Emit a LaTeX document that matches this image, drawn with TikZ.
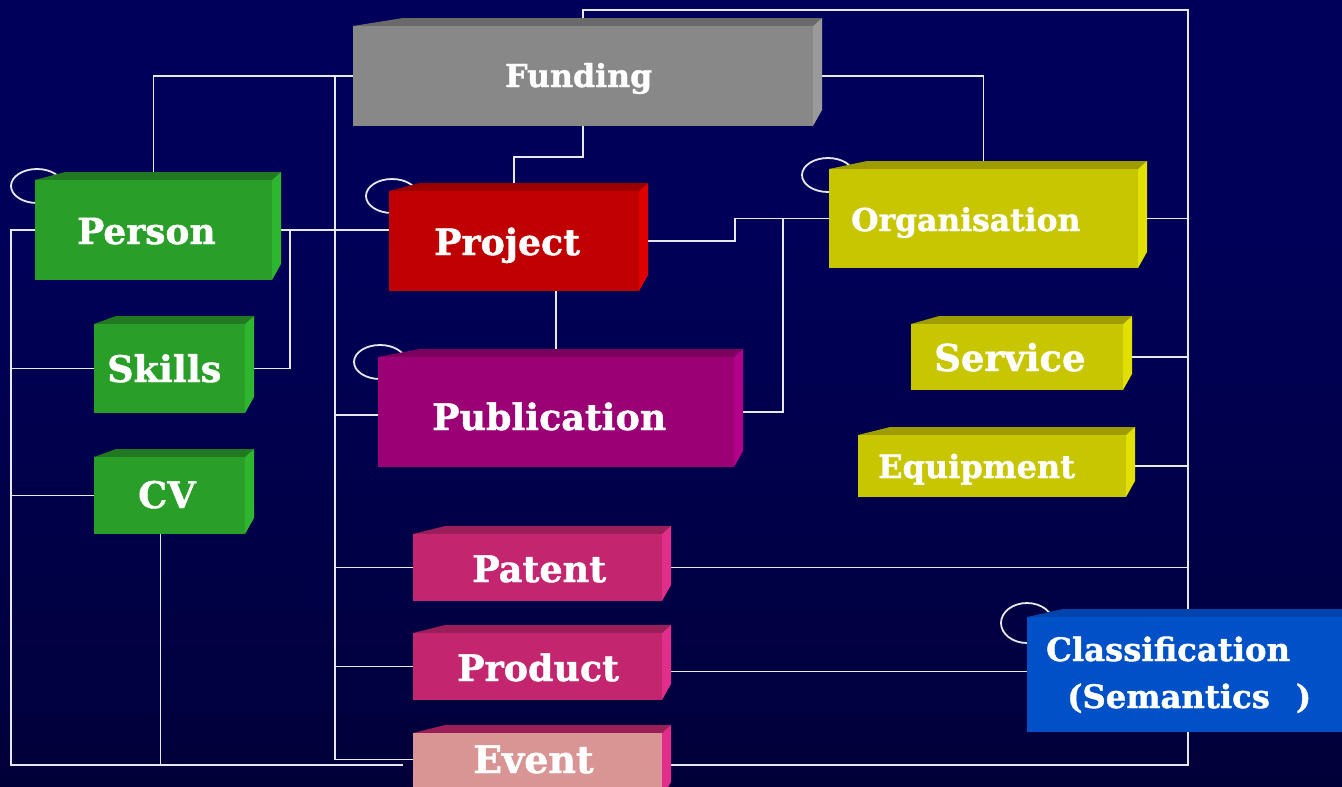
\documentclass[tikz,border=0pt]{standalone}
\usepackage{fontspec}
\setmainfont{DejaVu Serif}[BoldFeatures={FakeBold=1.2}]
\usetikzlibrary{calc}
\definecolor{bgT}{RGB}{0,0,96}
\definecolor{bgN}{RGB}{0,0,88}
\definecolor{bgM}{RGB}{0,0,62}
\definecolor{bgB}{RGB}{0,0,30}
\definecolor{linec}{RGB}{232,232,236}
\definecolor{grnF}{RGB}{41,158,41}\definecolor{grnT}{RGB}{33,122,33}\definecolor{grnS}{RGB}{46,182,46}
\definecolor{gryF}{RGB}{136,136,136}\definecolor{gryT}{RGB}{106,106,106}\definecolor{gryS}{RGB}{154,154,154}
\definecolor{redF}{RGB}{192,0,0}\definecolor{redT}{RGB}{154,0,0}\definecolor{redS}{RGB}{224,0,0}
\definecolor{yelF}{RGB}{200,198,0}\definecolor{yelT}{RGB}{158,156,0}\definecolor{yelS}{RGB}{226,224,0}
\definecolor{purF}{RGB}{155,0,117}\definecolor{purT}{RGB}{126,0,94}\definecolor{purS}{RGB}{179,0,138}
\definecolor{magF}{RGB}{195,38,111}\definecolor{magT}{RGB}{154,30,88}\definecolor{magS}{RGB}{224,46,138}
\definecolor{evtF}{RGB}{217,149,148}\definecolor{evtT}{RGB}{154,30,88}\definecolor{evtS}{RGB}{224,46,138}
\definecolor{bluF}{RGB}{0,80,200}\definecolor{bluT}{RGB}{0,69,173}\definecolor{bluS}{RGB}{0,96,224}
\pgfdeclarelayer{bg}\pgfdeclarelayer{lines}\pgfsetlayers{bg,lines,main}
\pgfdeclareverticalshading{bgshade}{100bp}{color(0bp)=(bgB); color(30bp)=(bgM); color(60bp)=(bgN); color(100bp)=(bgT)}
\newcommand{\solidbox}[7]{%
  \fill[#7T] (#2,#3) -- ({#2+#6},{#3-8}) -- ({#4+9},{#3-8}) -- (#4,#3) -- cycle;
  \fill[#7S] (#4,#3) -- ({#4+9},{#3-8}) -- ({#4+9},{#5-16}) -- (#4,#5) -- cycle;
  \node[fill=#7F, inner sep=0pt, outer sep=0pt, minimum width={(#4-#2)*1pt}, minimum height={(#5-#3)*1pt}, anchor=north west] (#1) at (#2,#3) {};
}
\tikzset{
  conn/.style={draw=linec, line width=1.8pt},
  loopc/.style={draw=linec, line width=1.8pt},
  lbl/.style={text=white, anchor=base west, inner sep=0pt, font=\bfseries\fontsize{#1}{#1}\selectfont},
}
\begin{document}
\begin{tikzpicture}[x=1pt,y=-1pt]
\useasboundingbox (0,0) rectangle (1342,787);
\clip (0,0) rectangle (1342,787);
\begin{pgfonlayer}{bg}
\shade[shading=bgshade] (0,0) rectangle (1342,787);
\end{pgfonlayer}
% loops (behind boxes)
\draw[loopc] (37,186) ellipse (26 and 17);
\draw[loopc] (392,196) ellipse (26 and 17);
\draw[loopc] (380,362) ellipse (26 and 17);
\draw[loopc] (828,175) ellipse (26 and 17);
\draw[loopc] (1027,623) ellipse (26 and 20);
% boxes
\solidbox{funding}{353}{26}{813}{126}{50}{gry}
\solidbox{person}{35}{180}{272}{280}{30}{grn}
\solidbox{skills}{94}{324}{245}{413}{22}{grn}
\solidbox{cv}{94}{457}{245}{534}{22}{grn}
\solidbox{project}{389}{191}{639}{291}{31}{red}
\solidbox{publication}{378}{357}{734}{467}{42}{pur}
\solidbox{organisation}{829}{169}{1138}{268}{38}{yel}
\solidbox{service}{911}{324}{1123}{390}{28}{yel}
\solidbox{equipment}{858}{435}{1126}{497}{32}{yel}
\solidbox{patent}{413}{534}{662}{601}{32}{mag}
\solidbox{product}{413}{633}{662}{700}{32}{mag}
\solidbox{event}{413}{733}{662}{798}{32}{evt}
\solidbox{classification}{1027}{617}{1380}{732}{36}{blu}
% labels
\node[lbl=31.6] (fundingL) at (505,87) {Funding};
\node[lbl=36] (personL) at (77,244) {Person};
\node[lbl=36.6] (skillsL) at (107,382) {Skills};
\node[lbl=36.6] (cvL) at (138,508) {CV};
\node[lbl=36.3] (projectL) at (434,255) {Project};
\node[lbl=36.4] (publicationL) at (432,430) {Publication};
\node[lbl=31.4] (organisationL) at (851,231) {Organisation};
\node[lbl=37] (serviceL) at (934,371) {Service};
\node[lbl=32] (equipmentL) at (878,478) {Equipment};
\node[lbl=36.6] (patentL) at (472,582) {Patent};
\node[lbl=36.4] (productL) at (457,681) {Product};
\node[lbl=38] (eventL) at (473,773) {Event};
\node[lbl=32.3] (classL1) at (1046,661) {Classification};
\node[lbl=32.3] (classL2) at (1067,708) {(Semantics\hspace{26pt})};
% connectors
\coordinate (bustop) at (1188,10);
\coordinate (busbot) at (1188,765);
\coordinate (mbus) at (335,76);
\coordinate (lbot) at (11,765);
\begin{pgfonlayer}{lines}
\draw[conn] (funding.north) |- (bustop) -- (busbot) -- (event.east |- busbot);
\draw[conn] (organisation.east) -- (organisation.east -| bustop);
\draw[conn] (service.east) -- (service.east -| bustop);
\draw[conn] (equipment.east) -- (equipment.east -| bustop);
\draw[conn] (patent.east) -- (patent.east -| bustop);
\draw[conn] ($(product.east)+(0,5)$) coordinate (pq) -- (pq -| classification.west);
\draw[conn] (funding.west) -| (person.north);
\draw[conn] (mbus) |- ($(event.west)+(0,-6)$);
\draw[conn] (mbus |- patent.west) -- (patent.west);
\draw[conn] (mbus |- product.west) -- (product.west);
\draw[conn] ($(publication.west)+(0,3)$) coordinate (pw) -- (pw -| mbus);
\draw[conn] (person.east) -- (project.west |- person.east);
\draw[conn] (person.east) -- ++(18,0) |- (skills.east);
\draw[conn] (person.west) -| (lbot) -- ($(event.west |- lbot)+(-10,0)$);
\draw[conn] (skills.west) -- (skills.west -| lbot);
\draw[conn] (cv.west) -- (cv.west -| lbot);
\draw[conn] ($(cv.south)+(-9,0)$) coordinate (cs) -- (cs |- lbot);
\draw[conn] (funding.south) -- ++(0,31) -| (project.north);
\draw[conn] (funding.east) -| (organisation.north);
\draw[conn] (project.east) -- ++(96,0) |- (organisation.west);
\draw[conn] (publication.east) -- ++(49,0) |- (organisation.west);
\draw[conn] ($(project.south)+(42,0)$) coordinate (ps) -- (ps |- publication.north);
\end{pgfonlayer}
\end{tikzpicture}
\end{document}
